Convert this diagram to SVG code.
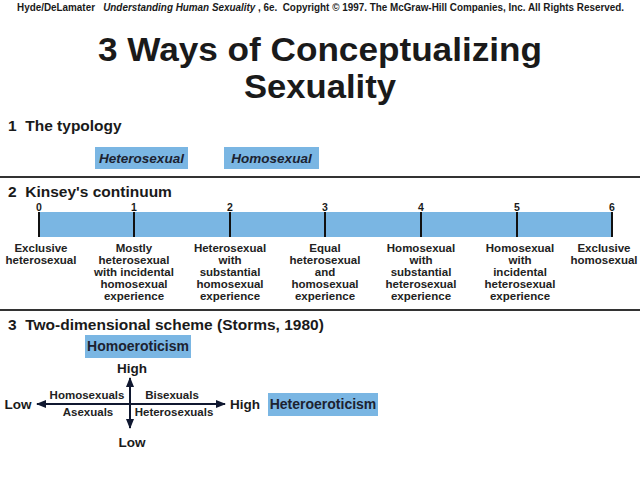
<svg xmlns="http://www.w3.org/2000/svg" width="640" height="480" viewBox="0 0 640 480">
<defs>
<style>
text{font-family:"Liberation Sans",Arial,Helvetica,sans-serif;fill:#1a1a1a;font-weight:bold}
.hdr{font-size:10px;white-space:pre}
.ttl{font-size:33px;text-anchor:middle}
.sec{font-size:15.5px;white-space:pre}
.box{fill:#7ab6e3}
.bt{font-size:13.5px;font-style:italic;text-anchor:middle;fill:#1c2230}
.bt2{font-size:14px;text-anchor:middle;fill:#1c2230}
.num{font-size:10.5px;text-anchor:middle}
.kl{font-size:11.5px;text-anchor:middle;fill:#222}
.ax{font-size:13.5px;text-anchor:middle}
.ql{font-size:11.5px;text-anchor:middle;fill:#222}
.tick{stroke:#111;stroke-width:2}
.sep{stroke:#333;stroke-width:2}
.arr{stroke:#101830;stroke-width:2;fill:none}
</style>
<marker id="ah" markerUnits="userSpaceOnUse" markerWidth="10" markerHeight="8" refX="9" refY="4" orient="auto-start-reverse">
<path d="M0,0 L10,4 L0,8 z" fill="#101830"/>
</marker>
</defs>
<rect width="640" height="480" fill="#ffffff"/>

<g id="header">
<text class="hdr" x="17" y="11" textLength="607" lengthAdjust="spacingAndGlyphs">Hyde/DeLamater   <tspan font-style="italic">Understanding Human Sexuality</tspan> , 6e.  Copyright © 1997. The McGraw-Hill Companies, Inc. All Rights Reserved.</text>
</g>

<g id="title">
<text class="ttl" x="320" y="61" textLength="444" lengthAdjust="spacingAndGlyphs">3 Ways of Conceptualizing</text>
<text class="ttl" x="320" y="98" textLength="152" lengthAdjust="spacingAndGlyphs">Sexuality</text>
</g>

<g id="separators">
<line class="sep" x1="0" y1="177" x2="640" y2="177"/>
<line class="sep" x1="0" y1="310" x2="640" y2="310"/>
</g>

<g id="section1">
<text class="sec" x="8" y="131">1  The typology</text>
<g id="node-heterosexual">
<rect class="box" x="95" y="147" width="93" height="22"/>
<text class="bt" x="141.5" y="163">Heterosexual</text>
</g>
<g id="node-homosexual">
<rect class="box" x="224" y="147" width="95" height="22"/>
<text class="bt" x="271.5" y="163">Homosexual</text>
</g>
</g>

<g id="section2">
<text class="sec" x="8" y="197">2  Kinsey's continuum</text>
<g id="kinsey-bar">
<rect class="box" x="38" y="212" width="574" height="25"/>
<line class="tick" x1="39" y1="212" x2="39" y2="237"/>
<line class="tick" x1="134" y1="212" x2="134" y2="237"/>
<line class="tick" x1="230" y1="212" x2="230" y2="237"/>
<line class="tick" x1="325" y1="212" x2="325" y2="237"/>
<line class="tick" x1="421" y1="212" x2="421" y2="237"/>
<line class="tick" x1="517" y1="212" x2="517" y2="237"/>
<line class="tick" x1="612" y1="212" x2="612" y2="237"/>
<text class="num" x="39" y="211">0</text>
<text class="num" x="134" y="211">1</text>
<text class="num" x="230" y="211">2</text>
<text class="num" x="325" y="211">3</text>
<text class="num" x="421" y="211">4</text>
<text class="num" x="517" y="211">5</text>
<text class="num" x="612" y="211">6</text>
</g>
<g id="k0"><text class="kl" x="41" y="252">Exclusive</text><text class="kl" x="41" y="264">heterosexual</text></g>
<g id="k1"><text class="kl" x="134" y="252">Mostly</text><text class="kl" x="134" y="264">heterosexual</text><text class="kl" x="134" y="276">with incidental</text><text class="kl" x="134" y="288">homosexual</text><text class="kl" x="134" y="300">experience</text></g>
<g id="k2"><text class="kl" x="230" y="252">Heterosexual</text><text class="kl" x="230" y="264">with</text><text class="kl" x="230" y="276">substantial</text><text class="kl" x="230" y="288">homosexual</text><text class="kl" x="230" y="300">experience</text></g>
<g id="k3"><text class="kl" x="325" y="252">Equal</text><text class="kl" x="325" y="264">heterosexual</text><text class="kl" x="325" y="276">and</text><text class="kl" x="325" y="288">homosexual</text><text class="kl" x="325" y="300">experience</text></g>
<g id="k4"><text class="kl" x="421" y="252">Homosexual</text><text class="kl" x="421" y="264">with</text><text class="kl" x="421" y="276">substantial</text><text class="kl" x="421" y="288">heterosexual</text><text class="kl" x="421" y="300">experience</text></g>
<g id="k5"><text class="kl" x="520" y="252">Homosexual</text><text class="kl" x="520" y="264">with</text><text class="kl" x="520" y="276">incidental</text><text class="kl" x="520" y="288">heterosexual</text><text class="kl" x="520" y="300">experience</text></g>
<g id="k6"><text class="kl" x="604" y="252">Exclusive</text><text class="kl" x="604" y="264">homosexual</text></g>
</g>

<g id="section3">
<text class="sec" x="8" y="330">3  Two-dimensional scheme (Storms, 1980)</text>
<g id="node-homoeroticism">
<rect class="box" x="85" y="335" width="106" height="23"/>
<text class="bt2" x="138" y="351">Homoeroticism</text>
</g>
<g id="node-heteroeroticism">
<rect class="box" x="268" y="393" width="110" height="23"/>
<text class="bt2" x="323" y="409">Heteroeroticism</text>
</g>
<g id="axis-labels">
<text class="ax" x="132" y="373">High</text>
<text class="ax" x="132" y="447">Low</text>
<text class="ax" x="18" y="409">Low</text>
<text class="ax" x="245" y="409">High</text>
</g>
<g id="quadrants">
<text class="ql" x="87" y="399">Homosexuals</text>
<text class="ql" x="172" y="399">Bisexuals</text>
<text class="ql" x="88" y="416">Asexuals</text>
<text class="ql" x="174" y="416">Heterosexuals</text>
</g>
</g>

<g id="connectors">
<line class="arr" x1="37" y1="404" x2="225" y2="404" marker-start="url(#ah)" marker-end="url(#ah)"/>
<line class="arr" x1="130" y1="378" x2="130" y2="428" marker-start="url(#ah)" marker-end="url(#ah)"/>
</g>
</svg>
